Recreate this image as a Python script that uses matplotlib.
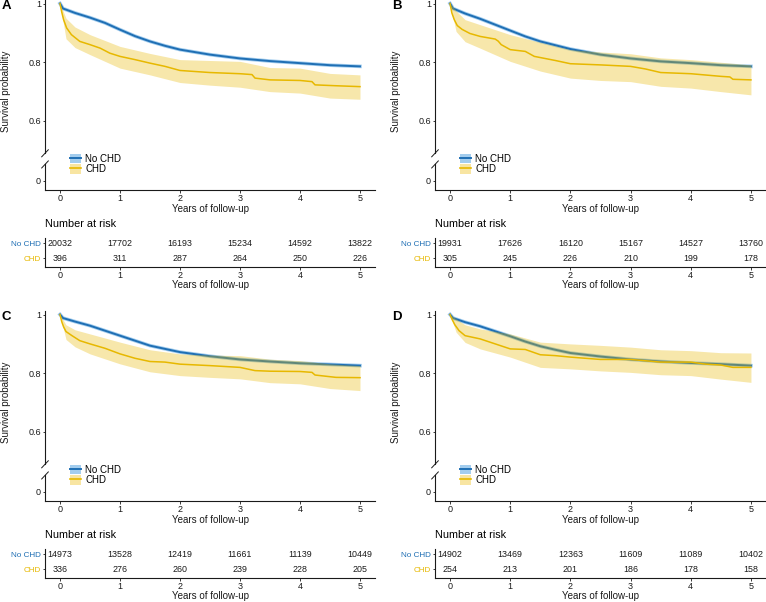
import matplotlib
matplotlib.use('Agg')
import matplotlib.pyplot as plt
from matplotlib.patches import Patch
from matplotlib.lines import Line2D
import matplotlib.transforms as mtransforms

plt.rcParams['font.family'] = ['Liberation Sans', 'DejaVu Sans']

# ---- data ----
years = [0, 1, 2, 3, 4, 5]
groups = ['No CHD', 'CHD']

nochd_t = [0, 0.05, 0.25, 0.5, 0.75, 1, 1.25, 1.5, 1.75, 2, 2.5, 3, 3.5, 4, 4.5, 5]
a_nochd_s = [1.0, 0.983, 0.968, 0.952, 0.934, 0.911, 0.889, 0.871, 0.856, 0.843, 0.826, 0.813, 0.804, 0.797, 0.790, 0.786]
b_nochd_s = [1.0, 0.983, 0.966, 0.948, 0.928, 0.908, 0.888, 0.871, 0.858, 0.845, 0.826, 0.813, 0.803, 0.797, 0.790, 0.786]
c_nochd_s = [1.0, 0.988, 0.976, 0.962, 0.945, 0.928, 0.911, 0.894, 0.883, 0.872, 0.858, 0.847, 0.840, 0.834, 0.830, 0.826]
d_nochd_s = [1.0, 0.988, 0.974, 0.960, 0.943, 0.926, 0.908, 0.892, 0.880, 0.869, 0.857, 0.847, 0.840, 0.835, 0.831, 0.826]

a_chd_t = [0, 0.03, 0.06, 0.11, 0.19, 0.33, 0.5, 0.67, 0.83, 1.0, 1.25, 1.5, 1.75, 2.0, 2.5, 3.0, 3.2, 3.25, 3.5, 4.0, 4.2, 4.25, 4.6, 5.0]
a_chd_s = [1.0, 0.97, 0.945, 0.917, 0.894, 0.871, 0.860, 0.848, 0.831, 0.820, 0.809, 0.797, 0.786, 0.772, 0.765, 0.761, 0.758, 0.746, 0.740, 0.738, 0.734, 0.723, 0.720, 0.717]
b_chd_t = [0, 0.03, 0.07, 0.12, 0.2, 0.33, 0.5, 0.75, 0.8, 0.85, 1.0, 1.25, 1.4, 1.75, 2.0, 2.5, 3.0, 3.25, 3.5, 4.0, 4.5, 4.65, 4.7, 5.0]
b_chd_s = [1.0, 0.968, 0.945, 0.925, 0.912, 0.898, 0.888, 0.879, 0.872, 0.860, 0.843, 0.837, 0.820, 0.806, 0.795, 0.791, 0.786, 0.777, 0.765, 0.761, 0.752, 0.750, 0.742, 0.740]
c_chd_t = [0, 0.03, 0.06, 0.1, 0.2, 0.33, 0.5, 0.75, 1.0, 1.25, 1.5, 1.75, 2.0, 2.5, 3.0, 3.25, 3.5, 4.0, 4.2, 4.25, 4.6, 5.0]
c_chd_s = [1.0, 0.975, 0.958, 0.942, 0.928, 0.911, 0.900, 0.885, 0.866, 0.851, 0.840, 0.838, 0.831, 0.826, 0.820, 0.809, 0.807, 0.806, 0.803, 0.794, 0.786, 0.785]
d_chd_t = [0, 0.03, 0.08, 0.15, 0.25, 0.5, 0.75, 1.0, 1.25, 1.5, 1.75, 2.0, 2.5, 3.0, 3.5, 4.0, 4.25, 4.5, 4.7, 5.0]
d_chd_s = [1.0, 0.985, 0.965, 0.945, 0.928, 0.917, 0.900, 0.883, 0.881, 0.863, 0.860, 0.855, 0.847, 0.847, 0.838, 0.838, 0.831, 0.828, 0.820, 0.820]

band_t = [0, 0.1, 0.25, 0.5, 1, 1.5, 2, 2.5, 3, 3.5, 4, 4.5, 5]
a_band_hi = [1.0, 0.95, 0.92, 0.894, 0.854, 0.83, 0.809, 0.806, 0.803, 0.782, 0.780, 0.762, 0.757]
a_band_lo = [1.0, 0.88, 0.85, 0.826, 0.78, 0.757, 0.731, 0.722, 0.715, 0.70, 0.695, 0.678, 0.674]
b_band_hi = [1.0, 0.975, 0.945, 0.928, 0.894, 0.868, 0.843, 0.835, 0.829, 0.815, 0.809, 0.80, 0.791]
b_band_lo = [1.0, 0.905, 0.87, 0.848, 0.803, 0.77, 0.746, 0.738, 0.734, 0.718, 0.712, 0.70, 0.689]
c_band_hi = [1.0, 0.965, 0.948, 0.934, 0.906, 0.88, 0.866, 0.862, 0.860, 0.848, 0.843, 0.832, 0.826]
c_band_lo = [1.0, 0.915, 0.89, 0.866, 0.832, 0.805, 0.792, 0.786, 0.781, 0.768, 0.764, 0.748, 0.741]
d_band_hi = [1.0, 0.985, 0.965, 0.951, 0.934, 0.906, 0.900, 0.895, 0.889, 0.880, 0.877, 0.870, 0.869]
d_band_lo = [1.0, 0.94, 0.905, 0.883, 0.855, 0.820, 0.815, 0.808, 0.803, 0.795, 0.792, 0.78, 0.769]

a_risk_nochd = [20032, 17702, 16193, 15234, 14592, 13822]
a_risk_chd = [396, 311, 287, 264, 250, 226]
b_risk_nochd = [19931, 17626, 16120, 15167, 14527, 13760]
b_risk_chd = [305, 245, 226, 210, 199, 178]
c_risk_nochd = [14973, 13528, 12419, 11661, 11139, 10449]
c_risk_chd = [336, 276, 260, 239, 228, 205]
d_risk_nochd = [14902, 13469, 12363, 11609, 11089, 10402]
d_risk_chd = [254, 213, 201, 186, 178, 158]

# ---- style ----
BLUE = '#1f6fb4'
BLUE_HALO = '#a3cdee'
GOLD = '#e7b800'
GOLD_KEY = '#f8e5a2'
AXC = '#1a1a1a'

# broken y axis: values below the gap are drawn at a shifted position
Y_BOTTOM, Y_TOP = 0.365, 1.012
Y_ZERO_POS = 0.396
BREAK_LO, BREAK_HI = 0.452, 0.490

W, H = 766, 602
fig = plt.figure(figsize=(W / 100, H / 100), dpi=100)


def add_px_axes(left, top, width, height):
    return fig.add_axes([left / W, 1 - (top + height) / H, width / W, height / H])


def fig_text(x, y, s, **kw):
    fig.text(x / W, 1 - y / H, s, **kw)


def draw_panel(left, top, width, letter, nochd_s, chd_t, chd_s, hi, lo, risk_no, risk_chd):
    ax = add_px_axes(left, top, width, 190)
    ax.plot(nochd_t, nochd_s, color=BLUE_HALO, lw=2.6, zorder=2)
    ax.plot(nochd_t, nochd_s, color=BLUE, lw=1.4, zorder=3)
    ax.plot(chd_t, chd_s, color=GOLD, lw=1.1, zorder=4)
    ax.fill_between(band_t, lo, hi, color=GOLD, alpha=0.33, lw=0, zorder=5)

    ax.set_xlim(-0.25, 5.25)
    ax.set_ylim(Y_BOTTOM, Y_TOP)
    ax.set_xticks(years)
    ax.set_yticks([Y_ZERO_POS, 0.6, 0.8, 1.0])
    ax.set_yticklabels(['0', '0.6', '0.8', '1'])
    for s in ['top', 'right', 'left']:
        ax.spines[s].set_visible(False)
    ax.spines['bottom'].set_color(AXC)
    ax.spines['bottom'].set_linewidth(0.8)
    ax.tick_params(direction='out', length=1.8, width=0.6, pad=1.2,
                   labelsize=6.5, colors=AXC)
    ax.set_xlabel('Years of follow-up', fontsize=7, color=AXC, labelpad=0.8)

    # left spine drawn in two pieces with break marks
    tr = mtransforms.blended_transform_factory(ax.transAxes, ax.transData)
    ax.plot([0, 0], [BREAK_HI, Y_TOP], transform=tr, color=AXC, lw=0.8, clip_on=False)
    ax.plot([0, 0], [Y_BOTTOM, BREAK_LO], transform=tr, color=AXC, lw=0.8, clip_on=False)
    for yb in (BREAK_HI, BREAK_LO):
        ax.plot([-0.010, 0.010], [yb - 0.012, yb + 0.012], transform=tr,
                color=AXC, lw=0.7, clip_on=False)

    handles = [(Patch(facecolor=BLUE_HALO, edgecolor='none'), Line2D([], [], color=BLUE, lw=1.4)),
               (Patch(facecolor=GOLD_KEY, edgecolor='none'), Line2D([], [], color=GOLD, lw=1.2))]
    ax.legend(handles, groups, loc='upper left', bbox_to_anchor=(0.076, 0.192),
              frameon=False, fontsize=7, handlelength=1.1, handleheight=1.2,
              labelspacing=0.02, handletextpad=0.45, borderpad=0, borderaxespad=0)

    fig_text(left - 39, top + 91, 'Survival probability', rotation=90,
             ha='center', va='center', fontsize=7, color=AXC)
    fig_text(left - 43, top + 6, letter, ha='left', va='center',
             fontsize=9.5, fontweight='bold', color='black')

    # number at risk table
    fig_text(left, top + 224, 'Number at risk', ha='left', va='center',
             fontsize=7.8, color='black')
    tb = add_px_axes(left, top + 238, width, 29)
    for x, n in zip(years, risk_no):
        tb.text(x, 1, str(n), ha='center', va='center', fontsize=6.4, color=AXC)
    for x, n in zip(years, risk_chd):
        tb.text(x, 0, str(n), ha='center', va='center', fontsize=6.4, color=AXC)
    tb.set_xlim(-0.25, 5.25)
    tb.set_ylim(-0.6, 1.35)
    tb.set_xticks(years)
    tb.set_yticks([1, 0])
    tb.set_yticklabels(groups)
    tb.get_yticklabels()[0].set_color(BLUE)
    tb.get_yticklabels()[1].set_color(GOLD)
    for s in ['top', 'right']:
        tb.spines[s].set_visible(False)
    for s in ['left', 'bottom']:
        tb.spines[s].set_color(AXC)
        tb.spines[s].set_linewidth(0.8)
    tb.tick_params(direction='out', length=1.8, width=0.6, pad=1.2, labelsize=6.5, color=AXC)
    tb.tick_params(axis='x', labelcolor=AXC)
    tb.tick_params(axis='y', labelsize=5.9)
    tb.set_xlabel('Years of follow-up', fontsize=7, color=AXC, labelpad=0)


draw_panel(45, 0, 330, 'A', a_nochd_s, a_chd_t, a_chd_s, a_band_hi, a_band_lo, a_risk_nochd, a_risk_chd)
draw_panel(435, 0, 331, 'B', b_nochd_s, b_chd_t, b_chd_s, b_band_hi, b_band_lo, b_risk_nochd, b_risk_chd)
draw_panel(45, 311, 330, 'C', c_nochd_s, c_chd_t, c_chd_s, c_band_hi, c_band_lo, c_risk_nochd, c_risk_chd)
draw_panel(435, 311, 331, 'D', d_nochd_s, d_chd_t, d_chd_s, d_band_hi, d_band_lo, d_risk_nochd, d_risk_chd)

fig.savefig('out.png', dpi=100)
